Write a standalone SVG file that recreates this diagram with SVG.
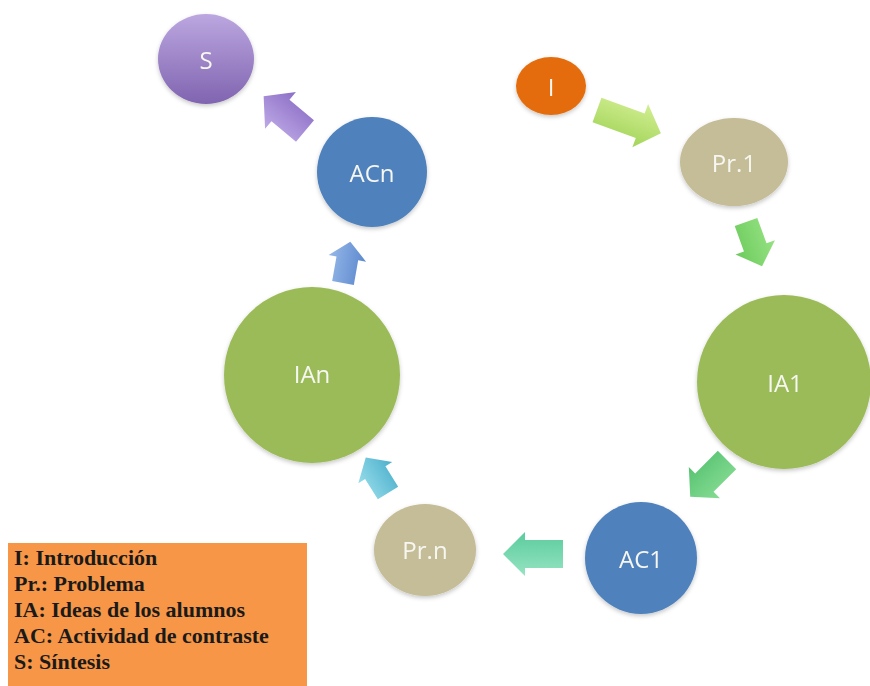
<svg xmlns="http://www.w3.org/2000/svg" width="870" height="686" viewBox="0 0 870 686">
<style>
.lbl{font-family:"Open Sans","Liberation Sans",sans-serif;font-size:24px;fill:#F7F7F2;text-anchor:middle;dominant-baseline:central}
.leg{font-family:"Liberation Serif","Times New Roman",serif;font-size:22px;font-weight:bold;fill:#1A1A1A}
.node{filter:url(#sh)}
</style>
<defs>
<filter id="sh" x="-20%" y="-20%" width="140%" height="140%">
<feDropShadow dx="0" dy="2" stdDeviation="2" flood-color="#000" flood-opacity="0.22"/>
</filter>
<linearGradient id="gS" x1="0" y1="0" x2="0" y2="1"><stop offset="0" stop-color="#BCA7E0"/><stop offset="1" stop-color="#8064B0"/></linearGradient>
<linearGradient id="g1" x1="0" y1="0" x2="0" y2="1"><stop offset="0" stop-color="#D2EE92"/><stop offset="1" stop-color="#A3D55A"/></linearGradient>
<linearGradient id="g2" x1="0" y1="0" x2="0" y2="1"><stop offset="0" stop-color="#96E283"/><stop offset="1" stop-color="#6CCB5C"/></linearGradient>
<linearGradient id="g3" x1="0" y1="0" x2="0" y2="1"><stop offset="0" stop-color="#86DC92"/><stop offset="1" stop-color="#58C372"/></linearGradient>
<linearGradient id="g4" x1="0" y1="0" x2="0" y2="1"><stop offset="0" stop-color="#96E4C2"/><stop offset="1" stop-color="#5ACB9C"/></linearGradient>
<linearGradient id="g5" x1="0" y1="0" x2="0" y2="1"><stop offset="0" stop-color="#96DCEA"/><stop offset="1" stop-color="#4CB0CC"/></linearGradient>
<linearGradient id="g6" x1="0" y1="0" x2="0" y2="1"><stop offset="0" stop-color="#96B8E8"/><stop offset="1" stop-color="#5C88CE"/></linearGradient>
<linearGradient id="g7" x1="0" y1="0" x2="0" y2="1"><stop offset="0" stop-color="#BEA9E6"/><stop offset="1" stop-color="#8C6EC6"/></linearGradient>
</defs>

<g id="connectors">
<path transform="translate(597,110) rotate(20)" fill="url(#g1)" d="M0,-13 L46,-13 L46,-23 L68,0 L46,23 L46,13 L0,13 Z"/>
<path transform="translate(746,222) rotate(70)" fill="url(#g2)" d="M0,-12 L27,-12 L27,-21 L47,0 L27,21 L27,12 L0,12 Z"/>
<path transform="translate(727,460) rotate(135)" fill="url(#g3)" d="M0,-13 L32,-13 L32,-22 L52,0 L32,22 L32,13 L0,13 Z"/>
<path transform="translate(563,554) rotate(180)" fill="url(#g4)" d="M0,-14 L38,-14 L38,-22 L60,0 L38,22 L38,14 L0,14 Z"/>
<path transform="translate(388,493) rotate(-122)" fill="url(#g5)" d="M0,-12 L24,-12 L24,-20 L42,0 L24,20 L24,12 L0,12 Z"/>
<path transform="translate(343,283) rotate(-80)" fill="url(#g6)" d="M0,-11 L25,-11 L25,-19 L42,0 L25,19 L25,11 L0,11 Z"/>
<path transform="translate(305,131) rotate(-140)" fill="url(#g7)" d="M0,-14 L32,-14 L32,-24 L54,0 L32,24 L32,14 L0,14 Z"/>
</g>

<g id="node-S" class="node">
<ellipse cx="206" cy="59" rx="48" ry="45" fill="url(#gS)"/>
<text class="lbl" x="206" y="59">S</text>
</g>
<g id="node-ACn" class="node">
<circle cx="372" cy="172" r="55" fill="#4F81BD"/>
<text class="lbl" x="372" y="172">ACn</text>
</g>
<g id="node-I" class="node">
<ellipse cx="551" cy="86" rx="35" ry="29" fill="#E46C0A"/>
<text class="lbl" x="551" y="86">I</text>
</g>
<g id="node-Pr1" class="node">
<ellipse cx="734" cy="162" rx="54" ry="44" fill="#C4BD97"/>
<text class="lbl" x="734" y="162">Pr.1</text>
</g>
<g id="node-IA1" class="node">
<circle cx="784" cy="382" r="87" fill="#9BBB59"/>
<text class="lbl" x="785" y="382">IA1</text>
</g>
<g id="node-AC1" class="node">
<circle cx="641" cy="558" r="56" fill="#4F81BD"/>
<text class="lbl" x="641" y="558">AC1</text>
</g>
<g id="node-Prn" class="node">
<ellipse cx="425" cy="550" rx="51" ry="46" fill="#C4BD97"/>
<text class="lbl" x="425" y="549">Pr.n</text>
</g>
<g id="node-IAn" class="node">
<circle cx="312" cy="375" r="88" fill="#9BBB59"/>
<text class="lbl" x="312" y="373">IAn</text>
</g>

<g id="legend">
<rect x="8" y="543" width="299" height="143" fill="#F79646"/>
<text class="leg" x="14" y="565">I: Introducción</text>
<text class="leg" x="14" y="591">Pr.: Problema</text>
<text class="leg" x="14" y="617">IA: Ideas de los alumnos</text>
<text class="leg" x="14" y="643">AC: Actividad de contraste</text>
<text class="leg" x="14" y="669">S: Síntesis</text>
</g>
</svg>
